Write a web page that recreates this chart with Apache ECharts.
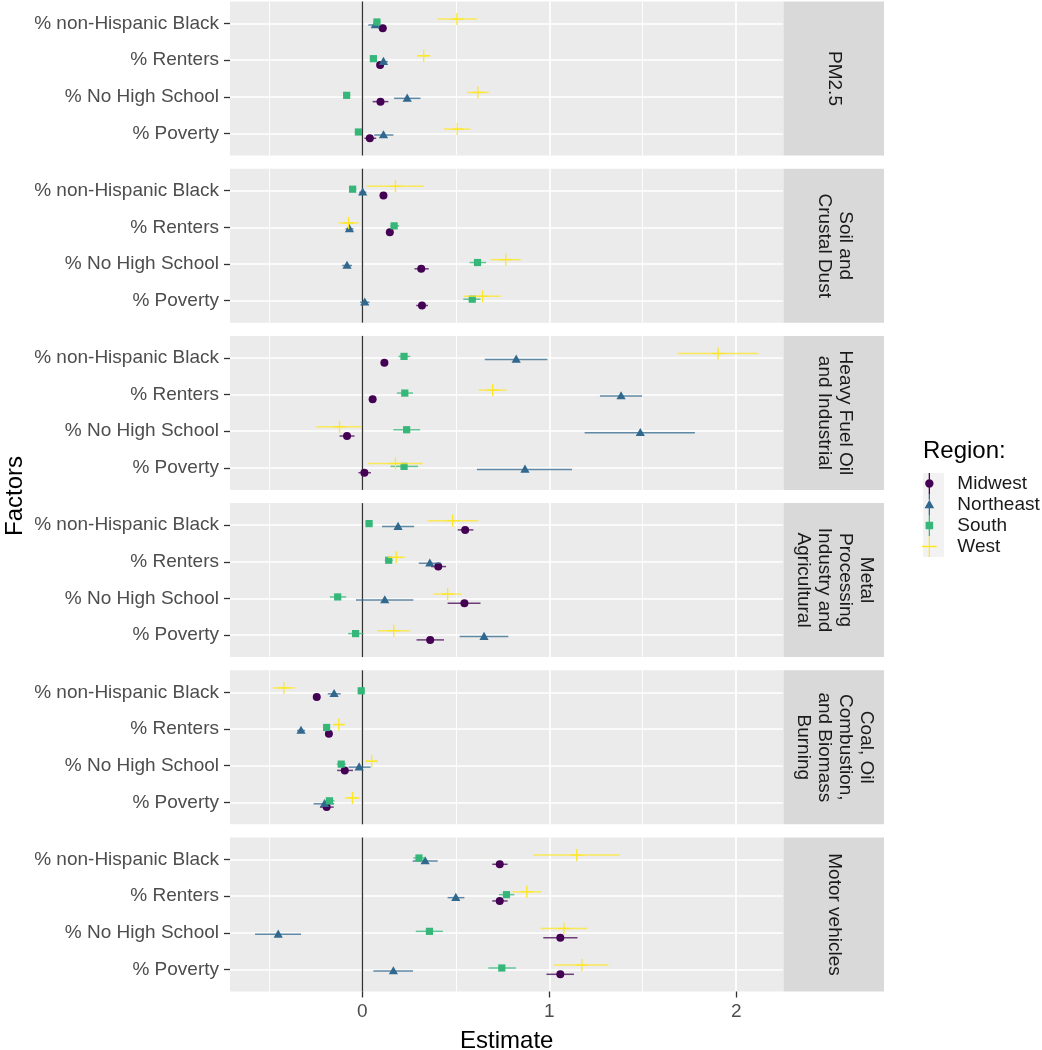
<!DOCTYPE html>
<html>
<head>
<meta charset="utf-8">
<script src="https://cdn.jsdelivr.net/npm/echarts@6/dist/echarts.min.js"></script>
<style>
  html, body { margin: 0; padding: 0; background: #fff; }
  #chart { width: 1042px; height: 1050px; }
</style>
</head>
<body>
<div id="chart"></div>
<script>
// categories
const factors = ['% non-Hispanic Black', '% Renters', '% No High School', '% Poverty'];
const sources = [
  'PM2.5',
  'Soil and\nCrustal Dust',
  'Heavy Fuel Oil\nand Industrial',
  'Metal\nProcessing\nIndustry and\nAgricultural',
  'Coal, Oil\nCombustion,\nand Biomass\nBurning',
  'Motor vehicles'
];
const regions = ['Midwest', 'Northeast', 'South', 'West'];
const xTicks = [0, 1, 2];
const xMinorTicks = [-0.5, 0.5, 1.5];

// one row per source (panel), columns follow factors
const midwestEst = [
  [0.109, 0.095, 0.097, 0.040],
  [0.113, 0.147, 0.315, 0.319],
  [0.118, 0.055, -0.082, 0.011],
  [0.550, 0.406, 0.546, 0.363],
  [-0.244, -0.179, -0.094, -0.191],
  [0.735, 0.735, 1.059, 1.059]
];
const midwestLo = [
  [0.088, 0.078, 0.055, 0.011],
  [0.094, 0.130, 0.279, 0.288],
  [0.099, 0.036, -0.122, -0.021],
  [0.510, 0.368, 0.456, 0.290],
  [-0.263, -0.198, -0.135, -0.227],
  [0.695, 0.695, 0.968, 0.985]
];
const midwestHi = [
  [0.130, 0.112, 0.139, 0.074],
  [0.132, 0.164, 0.355, 0.351],
  [0.137, 0.074, -0.042, 0.046],
  [0.594, 0.448, 0.632, 0.437],
  [-0.225, -0.160, -0.050, -0.153],
  [0.777, 0.777, 1.151, 1.132]
];

const northeastEst = [
  [0.069, 0.113, 0.240, 0.113],
  [0.002, -0.069, -0.082, 0.013],
  [0.823, 1.384, 1.487, 0.870],
  [0.191, 0.361, 0.120, 0.651],
  [-0.151, -0.328, -0.017, -0.202],
  [0.336, 0.500, -0.450, 0.166]
];
const northeastLo = [
  [0.032, 0.093, 0.170, 0.063],
  [-0.017, -0.090, -0.108, -0.012],
  [0.655, 1.271, 1.189, 0.613],
  [0.105, 0.302, -0.034, 0.521],
  [-0.185, -0.349, -0.074, -0.261],
  [0.269, 0.456, -0.574, 0.059]
];
const northeastHi = [
  [0.097, 0.136, 0.311, 0.166],
  [0.021, -0.048, -0.055, 0.038],
  [0.990, 1.496, 1.779, 1.122],
  [0.277, 0.422, 0.273, 0.781],
  [-0.116, -0.307, 0.044, -0.151],
  [0.403, 0.546, -0.328, 0.271]
];

const southEst = [
  [0.078, 0.059, -0.084, -0.021],
  [-0.052, 0.170, 0.616, 0.588],
  [0.223, 0.227, 0.237, 0.223],
  [0.036, 0.141, -0.132, -0.036],
  [-0.006, -0.191, -0.113, -0.176],
  [0.303, 0.771, 0.359, 0.746]
];
const southLo = [
  [0.060, 0.044, -0.101, -0.040],
  [-0.071, 0.149, 0.574, 0.540],
  [0.193, 0.185, 0.166, 0.151],
  [0.017, 0.120, -0.174, -0.076],
  [-0.023, -0.208, -0.137, -0.202],
  [0.273, 0.731, 0.286, 0.674]
];
const southHi = [
  [0.097, 0.074, -0.065, -0.002],
  [-0.033, 0.197, 0.662, 0.632],
  [0.256, 0.271, 0.309, 0.298],
  [0.055, 0.162, -0.086, 0.006],
  [0.011, -0.174, -0.088, -0.149],
  [0.336, 0.813, 0.431, 0.821]
];

const westEst = [
  [0.506, 0.328, 0.618, 0.508],
  [0.177, -0.074, 0.767, 0.643],
  [1.903, 0.697, -0.122, 0.177],
  [0.483, 0.181, 0.456, 0.168],
  [-0.420, -0.126, 0.050, -0.053],
  [1.147, 0.880, 1.078, 1.174]
];
const westLo = [
  [0.403, 0.292, 0.561, 0.437],
  [0.023, -0.128, 0.687, 0.542],
  [1.687, 0.622, -0.246, 0.031],
  [0.349, 0.136, 0.382, 0.080],
  [-0.479, -0.155, 0.017, -0.094],
  [0.914, 0.803, 0.954, 1.021]
];
const westHi = [
  [0.613, 0.365, 0.676, 0.578],
  [0.328, -0.021, 0.847, 0.740],
  [2.118, 0.771, -0.002, 0.323],
  [0.620, 0.227, 0.532, 0.256],
  [-0.361, -0.097, 0.084, -0.013],
  [1.376, 0.956, 1.202, 1.317]
];

const estimates = [midwestEst, northeastEst, southEst, westEst];
const lowers = [midwestLo, northeastLo, southLo, westLo];
const uppers = [midwestHi, northeastHi, southHi, westHi];

const FONT = 'Liberation Sans, Arial, sans-serif';
const colors = ['#440154', '#31688E', '#35B779', '#FDE725'];
const dodgePx = [4.8, 1.5, -1.5, -4.4];

const panelLeft = 230;
const panelWidth = 553.5;
const panelHeight = 154;
const panelStep = 167.2;
const panelTop = i => 1.5 + i * panelStep;

const chart = echarts.init(document.getElementById('chart'), null, { renderer: 'canvas' });

function makeRender(r) {
  const color = colors[r];
  return function (params, api) {
    const y = api.value(3);
    const c = api.coord([api.value(0), y]);
    const a = api.coord([api.value(1), y]);
    const b = api.coord([api.value(2), y]);
    const cy = c[1] + dodgePx[r];
    const bar = {
      type: 'line',
      shape: { x1: a[0], y1: cy, x2: b[0], y2: cy },
      style: { stroke: color, lineWidth: 1.5, opacity: 0.75 }
    };
    let mark;
    if (r === 0) {
      mark = { type: 'circle', shape: { cx: c[0], cy: cy, r: 4 }, style: { fill: color } };
    } else if (r === 1) {
      mark = {
        type: 'polygon',
        shape: { points: [[c[0], cy - 4.8], [c[0] + 4.6, cy + 3.3], [c[0] - 4.6, cy + 3.3]] },
        style: { fill: color }
      };
    } else if (r === 2) {
      mark = { type: 'rect', shape: { x: c[0] - 3.6, y: cy - 3.6, width: 7.2, height: 7.2 }, style: { fill: color } };
    } else {
      mark = {
        type: 'group',
        children: [
          { type: 'line', shape: { x1: c[0] - 6, y1: cy, x2: c[0] + 6, y2: cy }, style: { stroke: color, lineWidth: 1.3 } },
          { type: 'line', shape: { x1: c[0], y1: cy - 6, x2: c[0], y2: cy + 6 }, style: { stroke: color, lineWidth: 1.3 } }
        ]
      };
    }
    return { type: 'group', children: [bar, mark] };
  };
}

const grids = [], xAxes = [], yAxes = [], series = [], graphics = [];

sources.forEach((src, g) => {
  const last = g === sources.length - 1;
  grids.push({
    left: panelLeft, top: panelTop(g), width: panelWidth, height: panelHeight,
    show: true, backgroundColor: '#EBEBEB', borderWidth: 0, outerBoundsMode: 'none'
  });
  // major axis
  xAxes.push({
    gridIndex: g, type: 'value', min: -0.708, max: 2.253, position: 'bottom',
    axisLine: { show: false, onZero: false },
    axisTick: { show: last, customValues: xTicks, length: 6, lineStyle: { color: '#333', width: 1.3 } },
    axisLabel: { show: last, customValues: xTicks, margin: 11, fontSize: 19, color: '#4D4D4D', fontFamily: FONT },
    splitLine: { show: true, lineStyle: { color: '#fff', width: 1.7 } },
    name: last ? 'Estimate' : '', nameLocation: 'middle', nameGap: 38,
    nameTextStyle: { fontSize: 24, color: '#000', fontFamily: FONT }
  });
  yAxes.push({
    gridIndex: g, type: 'value', min: -0.6, max: 3.6, inverse: true, position: 'left',
    axisLine: { show: false, onZero: false },
    axisTick: { show: true, customValues: [0, 1, 2, 3], length: 6, lineStyle: { color: '#333', width: 1.3 } },
    axisLabel: {
      customValues: [0, 1, 2, 3], margin: 11, fontSize: 19, color: '#4D4D4D', fontFamily: FONT,
      formatter: v => factors[Math.round(v)]
    },
    splitLine: { show: true, lineStyle: { color: '#fff', width: 1.7 } }
  });

  regions.forEach((name, r) => {
    const s = {
      name: name, type: 'custom', xAxisIndex: g, yAxisIndex: g,
      itemStyle: { color: colors[r] },
      renderItem: makeRender(r),
      encode: { x: [0, 1, 2], y: 3 },
      data: factors.map((f, i) => [estimates[r][g][i], lowers[r][g][i], uppers[r][g][i], i]),
      silent: true, z: 3
    };
    if (r === 0) {
      s.markLine = {
        silent: true, symbol: 'none', label: { show: false }, z: 2,
        lineStyle: { color: '#333', width: 1.3, type: 'solid' },
        data: [{ xAxis: 0 }]
      };
    }
    series.push(s);
  });

  // strip on the right
  graphics.push({
    type: 'rect', z: 1,
    shape: { x: panelLeft + panelWidth, y: panelTop(g), width: 100.5, height: panelHeight },
    style: { fill: '#D9D9D9' }
  });
  graphics.push({
    type: 'text', z: 2,
    x: panelLeft + panelWidth + 51, y: panelTop(g) + panelHeight / 2,
    rotation: -Math.PI / 2,
    style: {
      text: src, fill: '#1A1A1A', fontSize: 19, fontFamily: FONT,
      align: 'center', verticalAlign: 'middle', lineHeight: 21
    }
  });
});

// minor vertical grid lines
sources.forEach((src, g) => {
  xAxes.push({
    gridIndex: g, type: 'value', min: -0.708, max: 2.253, position: 'bottom',
    axisLine: { show: false, onZero: false },
    axisTick: { show: false, customValues: xMinorTicks },
    axisLabel: { show: false, customValues: xMinorTicks },
    splitLine: { show: true, lineStyle: { color: '#fff', width: 0.9 } }
  });
});

graphics.push({
  type: 'text', x: 15, y: 496, rotation: Math.PI / 2,
  style: { text: 'Factors', fill: '#000', fontSize: 24, fontFamily: FONT, align: 'center', verticalAlign: 'middle' }
});
graphics.push({
  type: 'text', x: 923, y: 451,
  style: { text: 'Region:', fill: '#000', fontSize: 24, fontFamily: FONT, align: 'left', verticalAlign: 'middle' }
});
graphics.push({
  type: 'rect', z: 0,
  shape: { x: 923, y: 473, width: 21, height: 84 },
  style: { fill: '#F2F2F2' }
});

const icons = [
  'path://M4.4,0h1.2v6h-1.2z M4.4,14h1.2v6h-1.2z M1,10a4,4 0 1,0 8,0a4,4 0 1,0 -8,0z',
  'path://M4.4,0h1.2v5.5h-1.2z M4.4,13.5h1.2v6.5h-1.2z M5,5.5L9.6,13.5H0.4z',
  'path://M4.4,0h1.2v6.4h-1.2z M4.4,13.6h1.2v6.4h-1.2z M1.4,6.4h7.2v7.2h-7.2z',
  'path://M6.4,0h1.2v20h-1.2z M0,9.4h6.4v1.2h-6.4z M7.6,9.4h6.4v1.2h-6.4z'
];

chart.setOption({
  animation: false,
  grid: grids,
  xAxis: xAxes,
  yAxis: yAxes,
  series: series,
  graphic: graphics,
  legend: {
    orient: 'vertical', left: 922, top: 473, padding: 0,
    itemWidth: 22, itemHeight: 21, itemGap: 0, selectedMode: false,
    symbolKeepAspect: true,
    data: regions.map((n, i) => ({ name: n, icon: icons[i] })),
    formatter: '{n|{name}}',
    textStyle: {
      fontSize: 19, color: '#1A1A1A', fontFamily: FONT,
      rich: { n: { fontSize: 19, color: '#1A1A1A', fontFamily: FONT, padding: [0, 0, 0, 12] } }
    }
  }
});
</script>
</body>
</html>
